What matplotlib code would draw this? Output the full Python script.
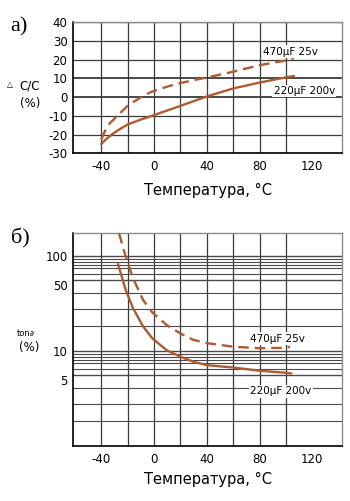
import matplotlib
matplotlib.use('Agg')
import matplotlib.pyplot as plt

# ---- data ----
x_ticks = [-40, 0, 40, 80, 120]
x_grid = [-40, -20, 0, 20, 40, 60, 80, 100]
cap_ticks = [-30, -20, -10, 0, 10, 20, 30, 40]
tan_ticks = [5, 10, 50, 100]
tan_tick_labels = ['5', '10', '50', '100']

temp_cap_470 = [-40, -37.5, -33.6, -28.6, -23.5, -19.7, -13.3, -8.3, -1.9, 4.4, 12.1,
                17.1, 24.8, 29.8, 38.7, 60, 80, 100, 105.8]
cap_470 = [-22.6, -18.4, -14.0, -10.5, -7.0, -4.4, -1.6, 0.6, 2.8, 4.3, 6.0,
           7.0, 8.2, 9.0, 10.2, 13.5, 17.0, 19.5, 20.5]
temp_cap_220 = [-40, -36, -32, -28, -20, -10, 0, 20, 40, 60, 80, 100, 105.8]
cap_220 = [-25.0, -22.2, -20.0, -18.0, -14.6, -12.0, -9.6, -4.7, 0.3, 4.6, 7.7, 10.5, 11.2]

temp_tan_470 = [-26.6, -21.5, -15.9, -8.3, -1.4, 9.5, 20, 29.8, 40, 60, 80, 100, 103]
tan_470 = [174, 98, 58, 34.4, 25.5, 18.8, 15.3, 13.1, 12.1, 11.1, 10.7, 10.8, 11.1]
temp_tan_220 = [-27.3, -21.5, -15.9, -8.3, -1.4, 9.5, 20, 29.8, 40, 60, 80, 100, 104]
tan_220 = [81.8, 43.8, 28.1, 18.1, 13.6, 10.2, 8.7, 7.7, 7.1, 6.7, 6.2, 5.9, 5.8]

label_470 = '470µF 25v'
label_220 = '220µF 200v'
xlabel = 'Температура, °C'

# ---- style ----
W, H = 350, 501
curve_color = '#b05a30'
grid_color = '#3a3a3a'
plt.rcParams['font.family'] = ['DejaVu Sans']
plt.rcParams['axes.unicode_minus'] = False

fig = plt.figure(figsize=(W / 100, H / 100), dpi=100)
fig.patch.set_facecolor('white')

def px(x, y):
    return x / W, 1 - y / H

XLIM = (-61.5, 142.5)

def style_axes(ax):
    ax.set_xlim(*XLIM)
    ax.set_xticks(x_ticks)
    for v in x_grid:
        ax.axvline(v, color=grid_color, lw=0.9, zorder=1)
    for s in ['left', 'bottom']:
        ax.spines[s].set_color('black')
        ax.spines[s].set_linewidth(1.2)
    for s in ['top', 'right']:
        ax.spines[s].set_color('#8a8a8a')
        ax.spines[s].set_linewidth(1.0)
    ax.tick_params(axis='both', length=0, labelsize=8.5, colors='black')
    ax.tick_params(axis='x', pad=5)
    ax.tick_params(axis='y', pad=4)

# ---- top chart ----
ax1 = fig.add_axes([73 / W, 1 - 153.3 / H, 269 / W, 131.3 / H])
style_axes(ax1)
ax1.set_ylim(-30, 40)
ax1.set_yticks(cap_ticks)
for v in cap_ticks:
    ax1.axhline(v, color=grid_color, lw=1.3 if v in (0, 10) else 0.9, zorder=1)
ax1.plot(temp_cap_470, cap_470, color=curve_color, lw=1.7, ls=(0, (4.5, 2.5)), zorder=3)
ax1.plot(temp_cap_220, cap_220, color=curve_color, lw=1.7, zorder=3)
bb = dict(facecolor='white', edgecolor='none', pad=1)
ax1.text(103.5, 24.2, label_470, fontsize=7.5, ha='center', va='center', bbox=bb, zorder=4)
ax1.text(113.9, 3.2, label_220, fontsize=7.5, ha='center', va='center', bbox=bb, zorder=4)

# ---- bottom chart ----
ax2 = fig.add_axes([73 / W, 1 - 446 / H, 269 / W, 213.3 / H])
style_axes(ax2)
ax2.set_yscale('log')
ax2.set_ylim(1, 176)
ax2.set_yticks(tan_ticks)
ax2.set_yticklabels(tan_tick_labels)
ax2.yaxis.set_minor_locator(matplotlib.ticker.NullLocator())
fracs = [1.0, 0.93, 0.87, 0.81, 0.74, 0.64, 0.56, 0.41, 0.275, 0.185]
for dec in (100, 10):
    for f in fracs:
        ax2.axhline(dec * f, color='#4a4a4a', lw=1.0 if f in (1.0, 0.56) else 0.8, zorder=1)
ax2.plot(temp_tan_470, tan_470, color=curve_color, lw=1.7, ls=(0, (4.5, 2.5)), zorder=3)
ax2.plot(temp_tan_220, tan_220, color=curve_color, lw=1.7, zorder=3)
ax2.text(93.9, 13.5, label_470, fontsize=7.5, ha='center', va='center', bbox=bb, zorder=4)
ax2.text(96.3, 3.76, label_220, fontsize=7.5, ha='center', va='center', bbox=bb, zorder=4)

# ---- figure texts ----
fig.text(*px(19, 27), 'a)', fontsize=16, family='Liberation Serif', ha='center', va='center')
fig.text(*px(20, 238), 'б)', fontsize=16, family='Liberation Serif', ha='center', va='center')
fig.text(*px(10, 84), '△', fontsize=5.5, ha='center', va='center')
fig.text(*px(30, 86), 'C/C', fontsize=8.5, ha='center', va='center')
fig.text(*px(30, 103), '(%)', fontsize=8.5, ha='center', va='center')
fig.text(*px(25.5, 333), 'ton∂', fontsize=6, ha='center', va='center')
fig.text(*px(29, 347), '(%)', fontsize=8.5, ha='center', va='center')
fig.text(*px(207.5, 190), xlabel, fontsize=10.5, ha='center', va='center')
fig.text(*px(207.5, 479), xlabel, fontsize=10.5, ha='center', va='center')

fig.savefig('out.png', dpi=100)
